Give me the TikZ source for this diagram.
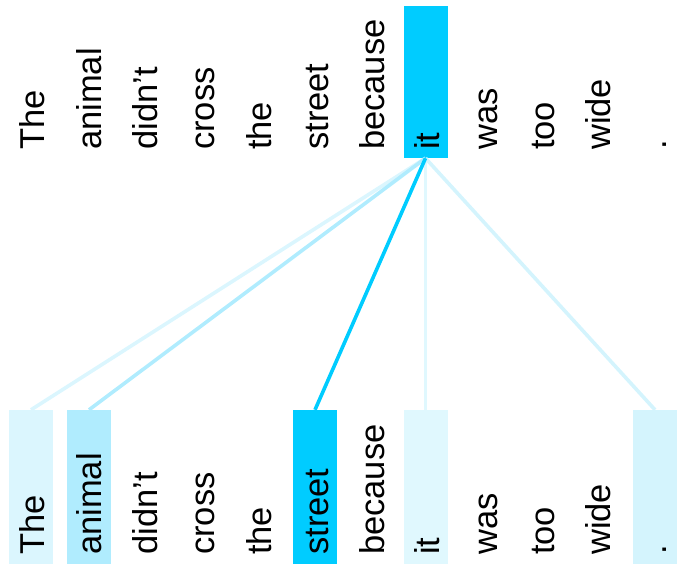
\documentclass[tikz,border=0pt]{standalone}
\usepackage{fontspec}
\setmainfont{Liberation Sans}
\definecolor{wStrong}{HTML}{00CCFF}
\definecolor{wAnimal}{HTML}{B0ECFE}
\definecolor{wThe}{HTML}{DBF6FE}
\definecolor{wIt}{HTML}{E0F8FE}
\definecolor{wDot}{HTML}{D4F4FD}
\tikzset{
  word/.style={rotate=90, anchor=base west, inner sep=0pt, font=\fontsize{34.5}{40}\selectfont},
  hlbox/.style={draw=none, inner sep=0pt, minimum width=44pt, minimum height=154pt},
  attn/.style={line width=3.6pt}
}
\begin{document}
\begin{tikzpicture}[x=1pt,y=-1pt]
\useasboundingbox (0,0) rectangle (687,574);
% highlight boxes
\node[hlbox, fill=wStrong, minimum height=152pt] (topit) at (425.5,82) {};
\node[hlbox, fill=wThe] (bthe) at (31,487) {};
\node[hlbox, fill=wAnimal] (banimal) at (89,487) {};
\node[hlbox, fill=wStrong] (bstreet) at (315,487) {};
\node[hlbox, fill=wIt] (bit) at (425.5,487) {};
\node[hlbox, fill=wDot] (bdot) at (655,487) {};
% connectors
\draw[attn, wThe] (topit.south) -- (bthe.north);
\draw[attn, wAnimal] (topit.south) -- (banimal.north);
\draw[attn, wIt] (topit.south) -- (bit.north);
\draw[attn, wDot] (topit.south) -- (bdot.north);
\draw[attn, wStrong] (topit.south) -- (bstreet.north);
% top row words
\node[word] (t0) at (44,150) {The};
\node[word] (t1) at (101,150) {animal};
\node[word] (t2) at (157.5,150) {didn’t};
\node[word] (t3) at (214,150) {cross};
\node[word] (t4) at (271,150) {the};
\node[word] (t5) at (328,150) {street};
\node[word] (t6) at (384,150) {because};
\node[word] (t7) at (439,150) {it};
\node[word] (t8) at (497,150) {was};
\node[word] (t9) at (554,150) {too};
\node[word] (t10) at (610,150) {wide};
\node[word] (t11) at (666,150) {.};
% bottom row words
\node[word] (u0) at (44,555) {The};
\node[word] (u1) at (101,555) {animal};
\node[word] (u2) at (157.5,555) {didn’t};
\node[word] (u3) at (214,555) {cross};
\node[word] (u4) at (271,555) {the};
\node[word] (u5) at (328,555) {street};
\node[word] (u6) at (384,555) {because};
\node[word] (u7) at (439,555) {it};
\node[word] (u8) at (497,555) {was};
\node[word] (u9) at (554,555) {too};
\node[word] (u10) at (610,555) {wide};
\node[word] (u11) at (666,555) {.};
\end{tikzpicture}
\end{document}
